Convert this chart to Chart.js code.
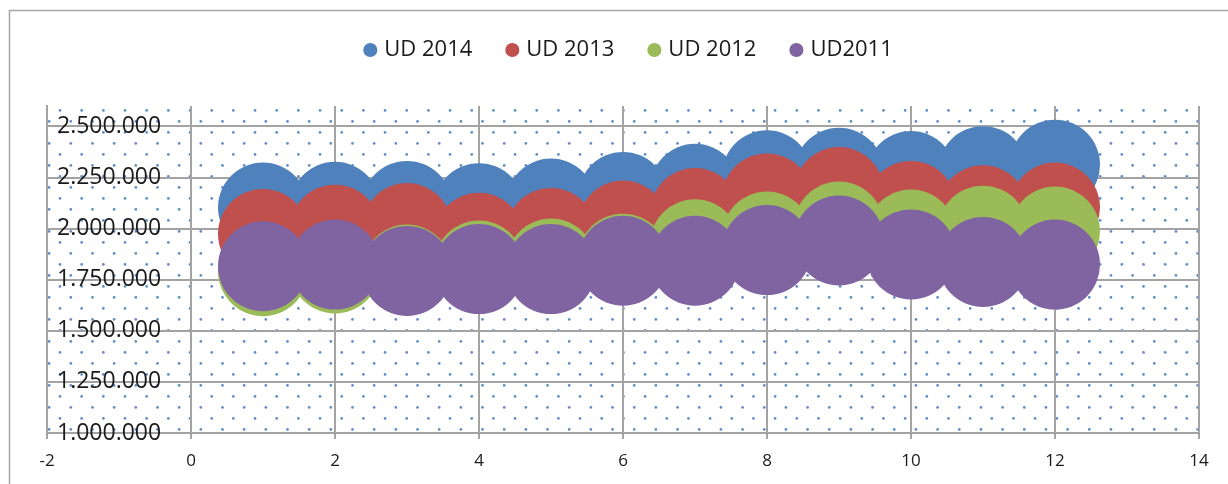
<!DOCTYPE html>
<html>
<head>
<meta charset="utf-8">
<script src="https://cdn.jsdelivr.net/npm/chart.js@4/dist/chart.umd.min.js"></script>
<style>
    html, body { margin: 0; padding: 0; background: #fff; }
</style>
</head>
<body>
<canvas id="bubbleChart" width="1228" height="484"></canvas>
<script>
// x position of each bubble (1..12)
const xValues = [1, 2, 3, 4, 5, 6, 7, 8, 9, 10, 11, 12];

const ud2014 = [2103000, 2107000, 2111000, 2100000, 2123000, 2155000, 2195000, 2261000, 2273000, 2257000, 2281000, 2313000];
const ud2013 = [1974000, 1995000, 2003000, 1955000, 1979000, 2015000, 2076000, 2148000, 2179000, 2111000, 2090000, 2103000];
const ud2012 = [1792000, 1805000, 1800000, 1819000, 1829000, 1853000, 1923000, 1961000, 2010000, 1971000, 1990000, 1986000];
const ud2011 = [1816000, 1824000, 1793000, 1802000, 1802000, 1843000, 1843000, 1895000, 1942000, 1874000, 1837000, 1824000];

const seriesLabels = ['UD 2014', 'UD 2013', 'UD 2012', 'UD2011'];

const xTickValues = [-2, 0, 2, 4, 6, 8, 10, 12, 14];
const yTickValues = [1000000, 1250000, 1500000, 1750000, 2000000, 2250000, 2500000];
const yMin = 1000000, yMax = 2600000;

const gridColor = '#a3a3a3';
const textColor = '#1a1a1a';

const toPoints = (values) => values.map((v, i) => ({ x: xValues[i], y: v }));

const formatThousands = (v) => String(v).replace(/\B(?=(\d{3})+(?!\d))/g, '.');

// background frame, dotted plot area and legend spacing
const excelLook = {
    id: 'excelLook',
    beforeInit(chart) {
        const fit = chart.legend.fit;
        chart.legend.fit = function () {
            fit.call(this);
            this.height += 35;
        };
    },
    afterLayout(chart) {
        chart.legend.left += 7;
        chart.legend.right += 7;
    },
    beforeDraw(chart) {
        const { ctx, chartArea: a } = chart;
        ctx.save();
        ctx.fillStyle = '#fff';
        ctx.fillRect(0, 0, chart.width, chart.height);
        ctx.strokeStyle = '#a6a6a6';
        ctx.lineWidth = 1.5;
        ctx.strokeRect(9.5, 10.5, chart.width, chart.height);

        ctx.beginPath();
        ctx.rect(a.left, a.top, a.right - a.left, a.bottom - a.top);
        ctx.clip();
        ctx.fillStyle = '#5f8bc9';
        const dx = 21.67, dy = 11;
        let row = 0;
        for (let y = a.top + 4.4; y < a.bottom; y += dy, row++) {
            const x0 = a.left + (row % 2 === 0 ? 13 : 23.8) - dx;
            for (let x = x0; x < a.right; x += dx) {
                ctx.beginPath();
                ctx.arc(x, y, 1.35, 0, Math.PI * 2);
                ctx.fill();
            }
        }
        ctx.restore();
    }
};

Chart.defaults.font.family = "'Open Sans', sans-serif";
Chart.defaults.color = textColor;

const ctxBubble = document.getElementById('bubbleChart').getContext('2d');

window.bubbleInstance = new Chart(ctxBubble, {
    type: 'bubble',
    data: {
        datasets: [
            {
                label: seriesLabels[0],
                data: toPoints(ud2014),
                backgroundColor: '#4f81bd',
                order: 4
            },
            {
                label: seriesLabels[1],
                data: toPoints(ud2013),
                backgroundColor: '#c0504d',
                order: 3
            },
            {
                label: seriesLabels[2],
                data: toPoints(ud2012),
                backgroundColor: '#9bbb59',
                order: 2
            },
            {
                label: seriesLabels[3],
                data: toPoints(ud2011),
                backgroundColor: '#8064a2',
                order: 1
            }
        ]
    },
    options: {
        responsive: false,
        animation: false,
        events: [],
        devicePixelRatio: 1,
        elements: {
            point: { radius: 45, borderWidth: 0, hoverRadius: 0 }
        },
        layout: {
            autoPadding: false,
            padding: { top: 2, left: 0, right: 29, bottom: 0.6 }
        },
        plugins: {
            legend: {
                position: 'top',
                fullSize: false,
                labels: {
                    usePointStyle: true,
                    pointStyle: 'circle',
                    boxWidth: 6,
                    boxHeight: 10,
                    padding: 37,
                    color: textColor,
                    font: { size: 22 },
                    sort: (a, b) => a.datasetIndex - b.datasetIndex
                }
            },
            tooltip: { enabled: false }
        },
        scales: {
            x: {
                type: 'linear',
                min: xTickValues[0],
                max: xTickValues[xTickValues.length - 1],
                afterBuildTicks: (scale) => { scale.ticks = xTickValues.map(v => ({ value: v })); },
                ticks: {
                    padding: 12,
                    color: textColor,
                    font: { size: 17 }
                },
                grid: {
                    color: gridColor,
                    lineWidth: 2,
                    tickLength: 6
                },
                border: { color: gridColor, width: 2 }
            },
            y: {
                type: 'linear',
                min: yMin,
                max: yMax,
                afterFit: (scale) => { scale.width = 47; },
                afterBuildTicks: (scale) => { scale.ticks = yTickValues.map(v => ({ value: v })); },
                ticks: {
                    mirror: true,
                    padding: 10,
                    color: textColor,
                    font: { size: 23 },
                    callback: (value) => formatThousands(value)
                },
                grid: {
                    drawTicks: false,
                    lineWidth: 2,
                    color: gridColor
                },
                border: { color: gridColor, width: 2 }
            }
        }
    },
    plugins: [excelLook]
});
</script>
</body>
</html>
